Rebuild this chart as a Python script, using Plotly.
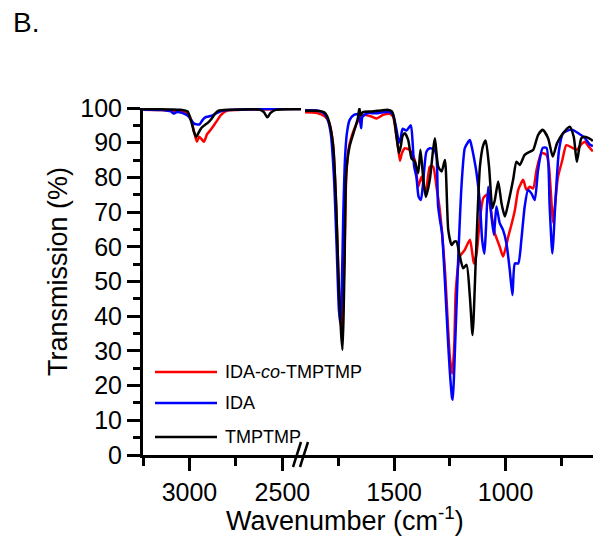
import plotly.graph_objects as go

# ---------------- data ----------------
copoly_wn_hi = [3250, 3150, 3100, 3050, 3010, 2990, 2975, 2960, 2948, 2935,
                2922, 2905, 2894, 2875, 2856, 2830, 2800, 2700, 2600, 2500, 2400]
copoly_t_hi = [99.5, 99.4, 99.2, 99.0, 98.4, 96.5, 93.0, 90.3, 91.7, 91.0,
               90.3, 92.5, 93.2, 94.5, 96.0, 98.0, 99.2, 99.5, 99.6, 99.7, 99.7]

ida_wn_hi = [3250, 3150, 3100, 3085, 3070, 3040, 3010, 2990, 2975, 2963,
             2945, 2930, 2915, 2900, 2880, 2850, 2820, 2700, 2600, 2500, 2400]
ida_t_hi = [99.6, 99.4, 99.0, 98.4, 98.8, 98.6, 97.8, 96.5, 95.5, 95.3,
            95.3, 96.5, 97.3, 97.5, 97.8, 98.6, 99.3, 99.6, 99.7, 99.7, 99.7]

tmp_wn_hi = [3250, 3100, 3050, 3010, 2990, 2975, 2963, 2950, 2935, 2920,
             2900, 2880, 2860, 2840, 2700, 2620, 2600, 2581, 2565, 2540, 2400]
tmp_t_hi = [99.7, 99.6, 99.5, 99.0, 96.0, 93.0, 91.7, 93.0, 94.3, 95.0,
            95.8, 97.0, 98.5, 99.3, 99.6, 99.5, 98.8, 97.3, 98.5, 99.4, 99.7]

copoly_wn_lo = [1900, 1850, 1810, 1790, 1775, 1762, 1750, 1742, 1737, 1730,
                1722, 1715, 1705, 1690, 1675, 1660, 1650, 1630, 1600, 1578,
                1550, 1520, 1505, 1492, 1485, 1474, 1465, 1452, 1430, 1407,
                1392, 1377, 1358, 1340, 1325, 1310, 1295, 1272, 1250, 1239,
                1230, 1223, 1205, 1183, 1160, 1150, 1142, 1130, 1115, 1100,
                1085, 1071, 1060, 1048, 1026, 1011, 998, 988, 975, 958,
                943, 921, 906, 891, 876, 861, 839, 816, 805, 795,
                787, 778, 765, 745, 727, 700, 680, 660, 645, 622,
                608]
copoly_t_lo = [98.8, 98.6, 97.5, 95.5, 90.0, 75.0, 52.0, 40.0, 36.5, 42.0,
               60.0, 80.0, 88.0, 92.0, 94.5, 96.5, 97.5, 98.0, 97.5, 97.0,
               98.0, 98.3, 97.5, 93.0, 90.0, 84.8, 87.0, 88.4, 87.9, 85.0,
               77.3, 80.2, 75.4, 83.1, 83.1, 77.3, 70.6, 53.3, 28.3, 23.5,
               32.0, 47.6, 57.2, 59.1, 62.0, 58.5, 55.2, 58.0, 68.0, 74.0,
               75.0, 72.5, 68.0, 63.9, 60.0, 57.2, 60.0, 62.9, 66.0, 70.6,
               76.4, 79.3, 76.4, 77.3, 76.8, 82.1, 87.0, 86.5, 83.0, 74.0,
               67.0, 72.0, 80.0, 85.0, 89.3, 88.5, 88.0, 89.5, 90.3, 88.5,
               87.5]

ida_wn_lo = [1900, 1850, 1815, 1800, 1785, 1770, 1758, 1748, 1742, 1736,
             1728, 1720, 1712, 1700, 1680, 1660, 1652, 1648, 1642, 1620,
             1580, 1550, 1520, 1505, 1490, 1478, 1470, 1462, 1445, 1425,
             1417, 1410, 1400, 1390, 1380, 1370, 1355, 1340, 1320, 1310,
             1303, 1295, 1285, 1272, 1260, 1250, 1240, 1237, 1230, 1212,
             1197, 1183, 1170, 1160, 1152, 1140, 1130, 1115, 1105, 1095,
             1088, 1078, 1063, 1052, 1041, 1026, 1011, 996, 981, 969,
             958, 943, 929, 914, 899, 884, 869, 854, 833, 816,
             802, 790, 775, 760, 742, 712, 700, 675, 645, 622,
             608]
ida_t_lo = [99.3, 99.3, 98.5, 97.0, 93.0, 80.0, 60.0, 42.0, 38.0, 45.0,
            70.0, 86.0, 92.7, 96.5, 98.0, 98.2, 96.0, 94.2, 97.5, 98.5,
            98.5, 98.8, 98.8, 98.0, 94.0, 90.0, 91.5, 94.0, 93.5, 95.0,
            90.0, 83.1, 80.2, 74.4, 73.5, 78.3, 87.4, 88.4, 88.0, 86.0,
            72.0, 68.0, 64.0, 50.0, 35.0, 24.0, 16.5, 15.9, 25.0, 57.2,
            78.3, 88.4, 90.0, 90.8, 88.9, 85.0, 81.2, 72.5, 62.0, 58.0,
            65.0, 77.3, 68.7, 63.4, 71.6, 66.8, 64.8, 61.0, 53.3, 46.1,
            55.2, 55.2, 62.0, 71.6, 76.4, 75.4, 73.5, 82.1, 88.5, 88.5,
            71.6, 58.1, 74.4, 87.9, 92.7, 93.7, 93.7, 92.8, 91.4, 89.5,
            89.0]

tmp_wn_lo = [1900, 1850, 1815, 1800, 1785, 1772, 1760, 1748, 1738, 1732,
             1727, 1722, 1715, 1700, 1678, 1663, 1656, 1650, 1640, 1600,
             1560, 1530, 1510, 1500, 1490, 1478, 1470, 1462, 1452, 1437,
             1422, 1407, 1392, 1382, 1370, 1358, 1340, 1325, 1317, 1302,
             1287, 1272, 1257, 1242, 1230, 1220, 1205, 1190, 1175, 1160,
             1148, 1133, 1115, 1100, 1089, 1074, 1059, 1048, 1033, 1018,
             1003, 988, 966, 951, 936, 914, 891, 876, 854, 833,
             809, 788, 769, 742, 712, 694, 680, 660, 645, 618,
             608]
tmp_t_lo = [99.3, 99.2, 98.8, 97.5, 94.0, 88.0, 72.0, 48.0, 35.0, 30.3,
            40.0, 57.2, 81.2, 88.9, 93.7, 97.0, 99.9, 98.0, 98.8, 99.0,
            99.3, 99.5, 99.0, 97.0, 92.0, 87.0, 89.0, 92.0, 92.7, 90.8,
            85.5, 84.5, 81.2, 88.0, 80.2, 74.4, 79.3, 88.0, 91.3, 83.1,
            81.7, 85.0, 64.8, 60.5, 61.5, 61.5, 57.2, 53.8, 54.8, 45.6,
            34.6, 57.2, 83.1, 89.3, 90.6, 83.1, 71.1, 73.5, 78.8, 72.5,
            68.7, 72.5, 79.3, 84.5, 83.6, 86.5, 87.4, 87.9, 92.2, 93.7,
            91.3, 86.0, 89.8, 92.7, 94.6, 91.7, 84.5, 91.3, 91.7, 91.0,
            90.5]

series_names = ["IDA-<i>co</i>-TMPTMP", "IDA", "TMPTMP"]
series_colors = ["#ff0000", "#0000ff", "#000000"]
x_tick_hi = [3000, 2500]
x_tick_lo = [1500, 1000]

# ---------------- figure ----------------
W, H = 593, 541
L, R, T, B = 143, 0, 108, 86
PW, PH = W - L - R, H - T - B


def px(x):
    return (x - L) / PW


def py(y):
    return (H - B - y) / PH


FONT = "Liberation Sans, Arial, sans-serif"

fig = go.Figure()
hi = [(copoly_wn_hi, copoly_t_hi), (ida_wn_hi, ida_t_hi), (tmp_wn_hi, tmp_t_hi)]
lo = [(copoly_wn_lo, copoly_t_lo), (ida_wn_lo, ida_t_lo), (tmp_wn_lo, tmp_t_lo)]
for i in range(3):
    fig.add_trace(go.Scatter(x=hi[i][0], y=hi[i][1], mode="lines", xaxis="x", yaxis="y",
                             line=dict(color=series_colors[i], width=2.5, shape="spline", smoothing=0.6),
                             showlegend=False, hoverinfo="skip"))
for i in range(3):
    fig.add_trace(go.Scatter(x=lo[i][0], y=lo[i][1], mode="lines", xaxis="x2", yaxis="y",
                             line=dict(color=series_colors[i], width=2.5, shape="spline", smoothing=0.6),
                             showlegend=False, hoverinfo="skip"))

seg1_end = 301
seg2_start = 305
axis_common = dict(
    showline=True, linewidth=3, linecolor="black", mirror=False,
    ticks="outside", ticklen=13, tickwidth=3, tickcolor="black",
    showgrid=False, zeroline=False, anchor="y", automargin=False,
    tickfont=dict(family=FONT, size=25, color="black"),
    minor=dict(dtick=250, tick0=0, ticks="outside", ticklen=8, tickwidth=3, tickcolor="black", showgrid=False),
)

fig.update_layout(
    width=W, height=H, autosize=False,
    margin=dict(l=L, r=R, t=T, b=B, pad=0, autoexpand=False),
    paper_bgcolor="white", plot_bgcolor="white",
    showlegend=False,
    xaxis=dict(domain=[0, px(seg1_end)], range=[3250, 2400], tickmode="array",
               tickvals=x_tick_hi, **axis_common),
    xaxis2=dict(domain=[px(seg2_start), 1], range=[1900, 607.5], tickmode="array",
                tickvals=x_tick_lo, **axis_common),
    yaxis=dict(range=[0, 100], dtick=10, tick0=0, anchor="x", automargin=False,
               showline=True, linewidth=3, linecolor="black",
               ticks="outside", ticklen=13, tickwidth=3, tickcolor="black",
               showgrid=False, zeroline=False,
               tickfont=dict(family=FONT, size=25, color="black"),
               minor=dict(dtick=5, tick0=0, ticks="outside", ticklen=7, tickwidth=3,
                          tickcolor="black", showgrid=False)),
    font=dict(family=FONT, color="black"),
)

shapes = []
# join the axis line across the break
shapes.append(dict(type="line", xref="paper", yref="paper", x0=px(seg1_end - 2), x1=px(seg2_start + 2),
                   y0=py(456.5), y1=py(456.5), line=dict(color="black", width=3)))
# break marks //
for dx in (0, 7):
    shapes.append(dict(type="line", xref="paper", yref="paper",
                       x0=px(293 + dx), y0=py(467), x1=px(301 + dx), y1=py(442),
                       line=dict(color="black", width=2.5)))
# legend samples
leg_y = [372, 403, 437]
for i in range(3):
    shapes.append(dict(type="line", xref="paper", yref="paper",
                       x0=px(155), x1=px(217), y0=py(leg_y[i]), y1=py(leg_y[i]),
                       line=dict(color=series_colors[i], width=2.5)))
fig.update_layout(shapes=shapes)

ann = []
for i in range(3):
    ann.append(dict(text=series_names[i], xref="paper", yref="paper", x=px(223), y=py(leg_y[i]),
                    xanchor="left", yanchor="middle", showarrow=False,
                    font=dict(family=FONT, size=18, color="black")))
ann.append(dict(text="B.", xref="paper", yref="paper", x=px(11), y=py(22),
                xanchor="left", yanchor="middle", showarrow=False,
                font=dict(family=FONT, size=28, color="black")))
ann.append(dict(text="Transmission (%)", xref="paper", yref="paper", x=px(58), y=py(272),
                xanchor="center", yanchor="middle", showarrow=False, textangle=-90,
                font=dict(family=FONT, size=27, color="black")))
ann.append(dict(text="Wavenumber (cm<sup>-1</sup>)", xref="paper", yref="paper", x=px(345), y=py(519),
                xanchor="center", yanchor="middle", showarrow=False,
                font=dict(family=FONT, size=27, color="black")))
fig.update_layout(annotations=ann)

fig.write_html("out.html")
